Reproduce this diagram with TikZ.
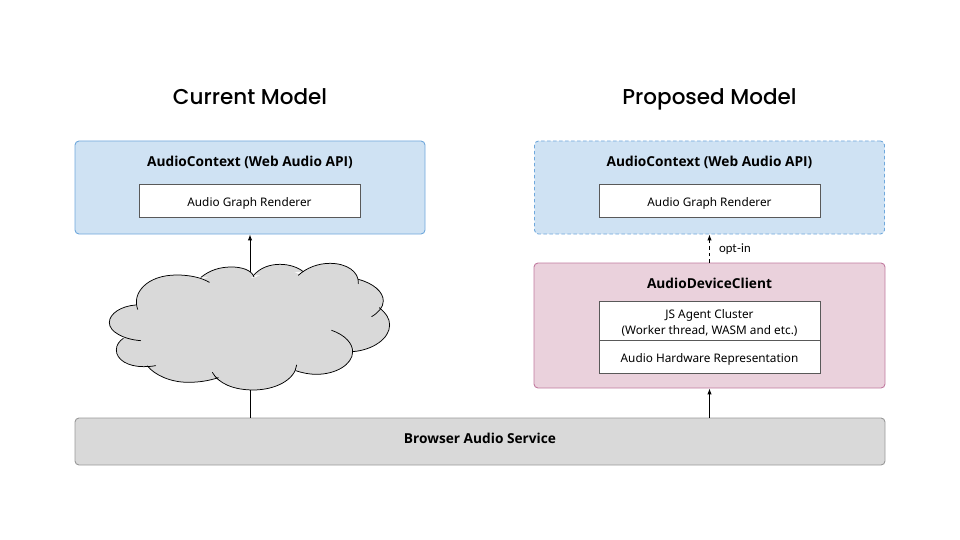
\documentclass[tikz,border=0pt]{standalone}
\usepackage{fontspec}
\setmainfont{Noto Sans}
\newfontfamily\titlefont{Poppins Medium}
\newfontfamily\semifont{Open Sans}
\newfontfamily\optfont{Lato}
\usetikzlibrary{arrows.meta}
\definecolor{bluefill}{HTML}{CFE2F3}
\definecolor{blueline}{HTML}{6FA8DC}
\definecolor{pinkfill}{HTML}{EAD1DC}
\definecolor{pinkline}{HTML}{C27BA0}
\definecolor{grayfill}{HTML}{D9D9D9}
\definecolor{grayline}{HTML}{999999}
\definecolor{innerline}{HTML}{595959}
\tikzset{
  boxbase/.style={draw,rounded corners=4pt,line width=.9pt,inner sep=0pt},
  bluebox/.style={boxbase,draw=blueline,fill=bluefill,minimum width=350pt,minimum height=93pt},
  pinkbox/.style={boxbase,draw=pinkline,fill=pinkfill,minimum width=351pt,minimum height=125pt},
  graybox/.style={boxbase,draw=grayline,fill=grayfill,minimum width=810pt,minimum height=47pt},
  innerbox/.style={draw=innerline,fill=white,line width=.8pt,minimum width=221pt,inner sep=0pt},
  innertext/.style={inner sep=0pt,anchor=base,align=center,font=\fontsize{11.8}{16.5}\selectfont},
  boxtitle/.style={font=\semifont\bfseries\fontsize{13.7}{17}\selectfont,inner sep=0pt,anchor=base},
  headline/.style={font=\titlefont\fontsize{21.5}{26}\selectfont,inner sep=0pt,anchor=base},
  conn/.style={draw=black,line width=1pt,-{Latex[length=6pt,width=4.5pt]}},
  lobeline/.style={draw=black,line width=.75pt,line cap=round},
}
\newcommand{\lobefill}[1]{\fill[grayfill] #1;}
\newcommand{\lobestroke}[1]{\draw[lobeline] #1;}
\newcommand{\alllobes}[1]{%
#1{(143,253) .. controls (125,205) and (170,150) .. (260,150) .. controls (300,150) and (335,158) .. (358,172)}
#1{(333,157) .. controls (360,135) and (390,126) .. (425,126) .. controls (455,126) and (485,135) .. (492,156)}
#1{(490,152) .. controls (510,128) and (540,118) .. (570,118) .. controls (600,118) and (625,128) .. (640,140)}
#1{(625,151) .. controls (650,128) and (685,115) .. (720,115) .. controls (770,115) and (808,140) .. (805,176)}
#1{(805,163) .. controls (850,175) and (880,200) .. (880,228) .. controls (880,247) and (865,263) .. (845,275)}
#1{(868,248) .. controls (888,265) and (899,280) .. (899,300) .. controls (899,340) and (850,375) .. (788,380)}
#1{(725,316) .. controls (765,330) and (788,355) .. (788,380) .. controls (788,420) and (735,448) .. (680,448) .. controls (655,448) and (635,443) .. (617,437)}
#1{(620,420) .. controls (615,465) and (555,495) .. (490,495) .. controls (430,495) and (385,475) .. (367,442)}
#1{(385,458) .. controls (355,468) and (325,472) .. (295,472) .. controls (240,472) and (195,450) .. (172,423)}
#1{(197,422) .. controls (180,425) and (170,425) .. (160,425) .. controls (115,425) and (79,405) .. (79,375) .. controls (79,360) and (88,348) .. (100,340)}
#1{(152,347) .. controls (100,343) and (58,320) .. (58,293) .. controls (58,265) and (95,243) .. (137,240)}
}
\begin{document}
\begin{tikzpicture}[x=1pt,y=-1pt]
\useasboundingbox (0,0) rectangle (960,540);
\node[headline] (h1) at (250,104.5) {Current Model};
\node[headline] (h2) at (709.5,104.5) {Proposed Model};

\node[bluebox] (ctxL) at (250,187.5) {};
\node[bluebox,dashed,dash pattern=on 3.5pt off 2.5pt] (ctxR) at (709.5,187.5) {};
\node[pinkbox] (client) at (709.5,325.5) {};
\node[graybox] (browser) at (480,441.5) {};
\node[boxtitle] (tB) at (480,443) {Browser Audio Service};

\node[boxtitle] (tL) at (250,166.5) {AudioContext (Web Audio API)};
\node[boxtitle] (tR) at (709.5,166.5) {AudioContext (Web Audio API)};
\node[boxtitle] (tC) at (709.5,288.5) {AudioDeviceClient};

\node[innerbox,minimum height=33pt] (rL) at (249.5,200.5) {};
\node[innerbox,minimum height=33pt] (rR) at (709.5,200.5) {};
\node[innerbox,minimum height=39pt] (js) at (709.5,320.5) {};
\node[innerbox,minimum height=33pt] (hw) at (709.5,356.5) {};
\node[innertext] (rLt) at (249.5,206) {Audio Graph Renderer};
\node[innertext] (rRt) at (709.5,206) {Audio Graph Renderer};
\node[innertext] (jst1) at (709.5,318) {JS Agent Cluster};
\node[innertext] (jst2) at (709.5,334.5) {(Worker thread, WASM and etc.)};
\node[innertext] (hwt) at (709.5,362) {Audio Hardware Representation};

\draw[conn] (browser.north -| ctxL.south) -- (ctxL.south);
\draw[conn] (browser.north -| client.south) -- (client.south);
\draw[conn,dashed,dash pattern=on 3.5pt off 3pt] (client.north) -- (ctxR.south)
  node[pos=.47,right=9pt,inner sep=0pt,font=\optfont\fontsize{12}{14}\selectfont] (opt) {opt-in};

\begin{scope}[shift={(90,225)},x=0.3333pt,y=-0.3333pt]
\alllobes{\lobefill}
\fill[grayfill] (143,253) -- (260,155) -- (340,162) -- (425,130) -- (490,160) -- (570,122) -- (632,150) -- (720,120) -- (805,170) -- (870,250)
  -- (890,300) -- (788,375) -- (680,443) -- (617,432) -- (490,490) -- (375,455) -- (295,467) -- (172,420) -- (100,345) -- (137,245) -- cycle;
\alllobes{\lobestroke}
\end{scope}
\end{tikzpicture}
\end{document}
